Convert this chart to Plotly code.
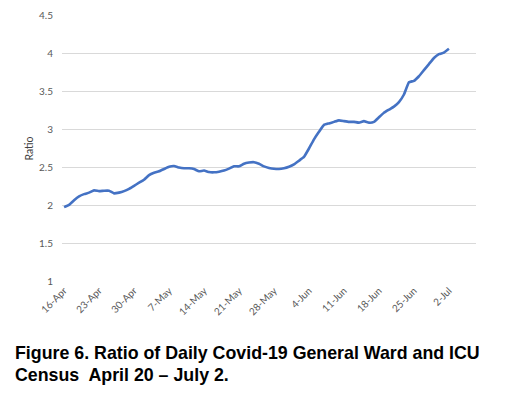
import plotly.graph_objects as go
import pandas as pd

start_date = "2020-04-16"
ratio = [1.98, 2.01, 2.07, 2.12, 2.15, 2.17, 2.20, 2.19, 2.195, 2.195,
         2.16, 2.17, 2.19, 2.22, 2.26, 2.30, 2.34, 2.40, 2.43, 2.45,
         2.48, 2.51, 2.52, 2.50, 2.49, 2.49, 2.48, 2.45, 2.46, 2.44,
         2.437, 2.445, 2.46, 2.485, 2.516, 2.516, 2.55, 2.565, 2.57, 2.55,
         2.515, 2.495, 2.483, 2.48, 2.49, 2.51, 2.54, 2.59, 2.64, 2.75,
         2.87, 2.97, 3.06, 3.08, 3.10, 3.12, 3.11, 3.10, 3.10, 3.09,
         3.11, 3.09, 3.10, 3.16, 3.22, 3.26, 3.30, 3.36, 3.46, 3.62,
         3.64, 3.70, 3.78, 3.86, 3.94, 3.99, 4.01, 4.06]
dates = pd.date_range(start_date, periods=len(ratio), freq="D")

tick_dates = ["2020-04-16", "2020-04-23", "2020-04-30", "2020-05-07", "2020-05-14",
              "2020-05-21", "2020-05-28", "2020-06-04", "2020-06-11", "2020-06-18",
              "2020-06-25", "2020-07-02"]
tick_labels = ["16-Apr", "23-Apr", "30-Apr", "7-May", "14-May", "21-May",
               "28-May", "4-Jun", "11-Jun", "18-Jun", "25-Jun", "2-Jul"]
y_ticks = [1, 1.5, 2, 2.5, 3, 3.5, 4, 4.5]
y_labels = ["1", "1.5", "2", "2.5", "3", "3.5", "4", "4.5"]

caption1 = "Figure 6. Ratio of Daily Covid-19 General Ward and ICU"
caption2 = "Census  April 20 \u2013 July 2."

fig = go.Figure()
fig.add_trace(go.Scatter(x=dates, y=ratio, mode="lines",
                         line=dict(color="#4472C4", width=2.6, shape="spline", smoothing=0.3),
                         showlegend=False, hoverinfo="skip"))

tick_font = dict(family="Lato, Open Sans, sans-serif", size=10, color="#595959")

# page body has an 8px default margin, so the figure is shifted by 8px
fig.update_layout(
    width=498, height=386,
    margin=dict(l=54, r=30, t=7, b=112),
    paper_bgcolor="white", plot_bgcolor="white",
    xaxis=dict(
        range=["2020-04-15 14:00", "2020-07-07 10:00"],
        tickvals=tick_dates, ticktext=tick_labels, tickangle=-45,
        tickfont=tick_font, showgrid=False, zeroline=False, showline=False,
        ticks="", fixedrange=True, automargin=False,
    ),
    yaxis=dict(
        range=[0.995, 4.505], automargin=False,
        tickvals=y_ticks, ticktext=y_labels, tickfont=tick_font,
        showgrid=True, gridcolor="#d9d9d9", gridwidth=1.3,
        zeroline=False, showline=False, ticks="", ticklabelstandoff=8,
        title=dict(text="Ratio", font=dict(family="Lato, Open Sans, sans-serif", size=10.5, color="#404040"),
                   standoff=3),
    ),
    annotations=[
        dict(text="<b>" + caption1 + "</b>", xref="paper", yref="paper",
             x=(13 - 62) / 414, y=(282 - 353) / 267, xanchor="left", yanchor="middle",
             showarrow=False, font=dict(family="Liberation Sans, Arial, sans-serif", size=17.8, color="black")),
        dict(text="<b>" + caption2 + "</b>", xref="paper", yref="paper",
             x=(13 - 62) / 414, y=(282 - 375) / 267, xanchor="left", yanchor="middle",
             showarrow=False, font=dict(family="Liberation Sans, Arial, sans-serif", size=17.8, color="black")),
    ],
)

fig.write_html("out.html")
